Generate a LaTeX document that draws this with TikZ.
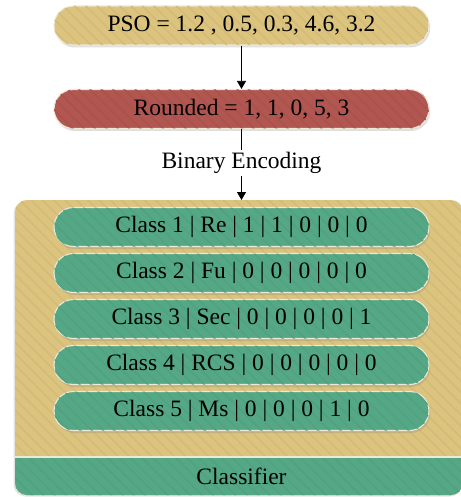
\documentclass[tikz,border=0pt]{standalone}
\usepackage{fontspec}
\setmainfont{Liberation Serif}
\usetikzlibrary{arrows.meta,shadows,patterns.meta,shapes.misc}

\definecolor{goldfill}{RGB}{220,195,126}
\definecolor{redfill}{RGB}{177,86,80}
\definecolor{greenfill}{RGB}{85,168,134}
\definecolor{rimcol}{RGB}{238,233,214}

\tikzset{
  txt/.style={font=\fontsize{23.5}{27}\selectfont, text=black},
  hatch/.style={postaction={pattern={Lines[angle=-45,distance=8pt,line width=1.6pt]},
                pattern color=#1}},
  pill/.style={txt, rounded rectangle, draw=rimcol, line width=1.1pt,
               minimum width=375pt, minimum height=39pt, inner sep=0pt,
               drop shadow={opacity=0.25, shadow xshift=1.2pt, shadow yshift=-2.5pt}},
  goldpill/.style={pill, fill=goldfill, hatch=goldfill!96!black},
  redpill/.style={pill, fill=redfill, hatch=redfill!96!black},
  greenpill/.style={pill, fill=greenfill, hatch=greenfill!96!black},
  flow/.style={line width=0.8pt, -{Triangle[length=8pt,width=9pt]}},
}

\begin{document}
\begin{tikzpicture}[x=1pt,y=-1pt]
\useasboundingbox (0,0) rectangle (460,497);

% container holding the class rows and the classifier band
\path[fill=goldfill, rounded corners=12pt,
      drop shadow={opacity=0.22, shadow xshift=-1.5pt, shadow yshift=-1.5pt},
      hatch=goldfill!96!black]
  (15,200) rectangle (463,495);
\begin{scope}
  \clip[rounded corners=12pt] (15,200) rectangle (463,495);
  \path[fill=greenfill, hatch=greenfill!96!black] (10,457) rectangle (470,500);
  \draw[rimcol, line width=1.1pt] (10,457) -- (470,457);
\end{scope}
\node[txt] (clf) at (241.5,476.5) {Classifier};

% input and rounded values
\node[goldpill] (pso) at (241.5,25.5) {PSO = 1.2 , 0.5, 0.3, 4.6, 3.2};
\node[redpill] (rnd) at (241.5,109) {Rounded = 1, 1, 0, 5, 3};

% class rows
\node[greenpill] (c1) at (241.5,227) {Class 1 | Re | 1 | 1 | 0 | 0 | 0};
\node[greenpill] (c2) at (241.5,273) {Class 2 | Fu | 0 | 0 | 0 | 0 | 0};
\node[greenpill] (c3) at (241.5,319) {Class 3 | Sec | 0 | 0 | 0 | 0 | 1};
\node[greenpill] (c4) at (241.5,365) {Class 4 | RCS | 0 | 0 | 0 | 0 | 0};
\node[greenpill] (c5) at (241.5,411) {Class 5 | Ms | 0 | 0 | 0 | 1 | 0};

% connectors
\coordinate (boxtop) at (241.5,200);
\node[txt, inner sep=0pt, minimum height=26pt] (enc) at (241.5,163) {Binary Encoding};
\draw[flow] (pso.south) -- (rnd.north);
\draw[line width=0.8pt] (rnd.south) -- (enc.north);
\draw[flow] (enc.south) -- (boxtop);
\end{tikzpicture}
\end{document}
